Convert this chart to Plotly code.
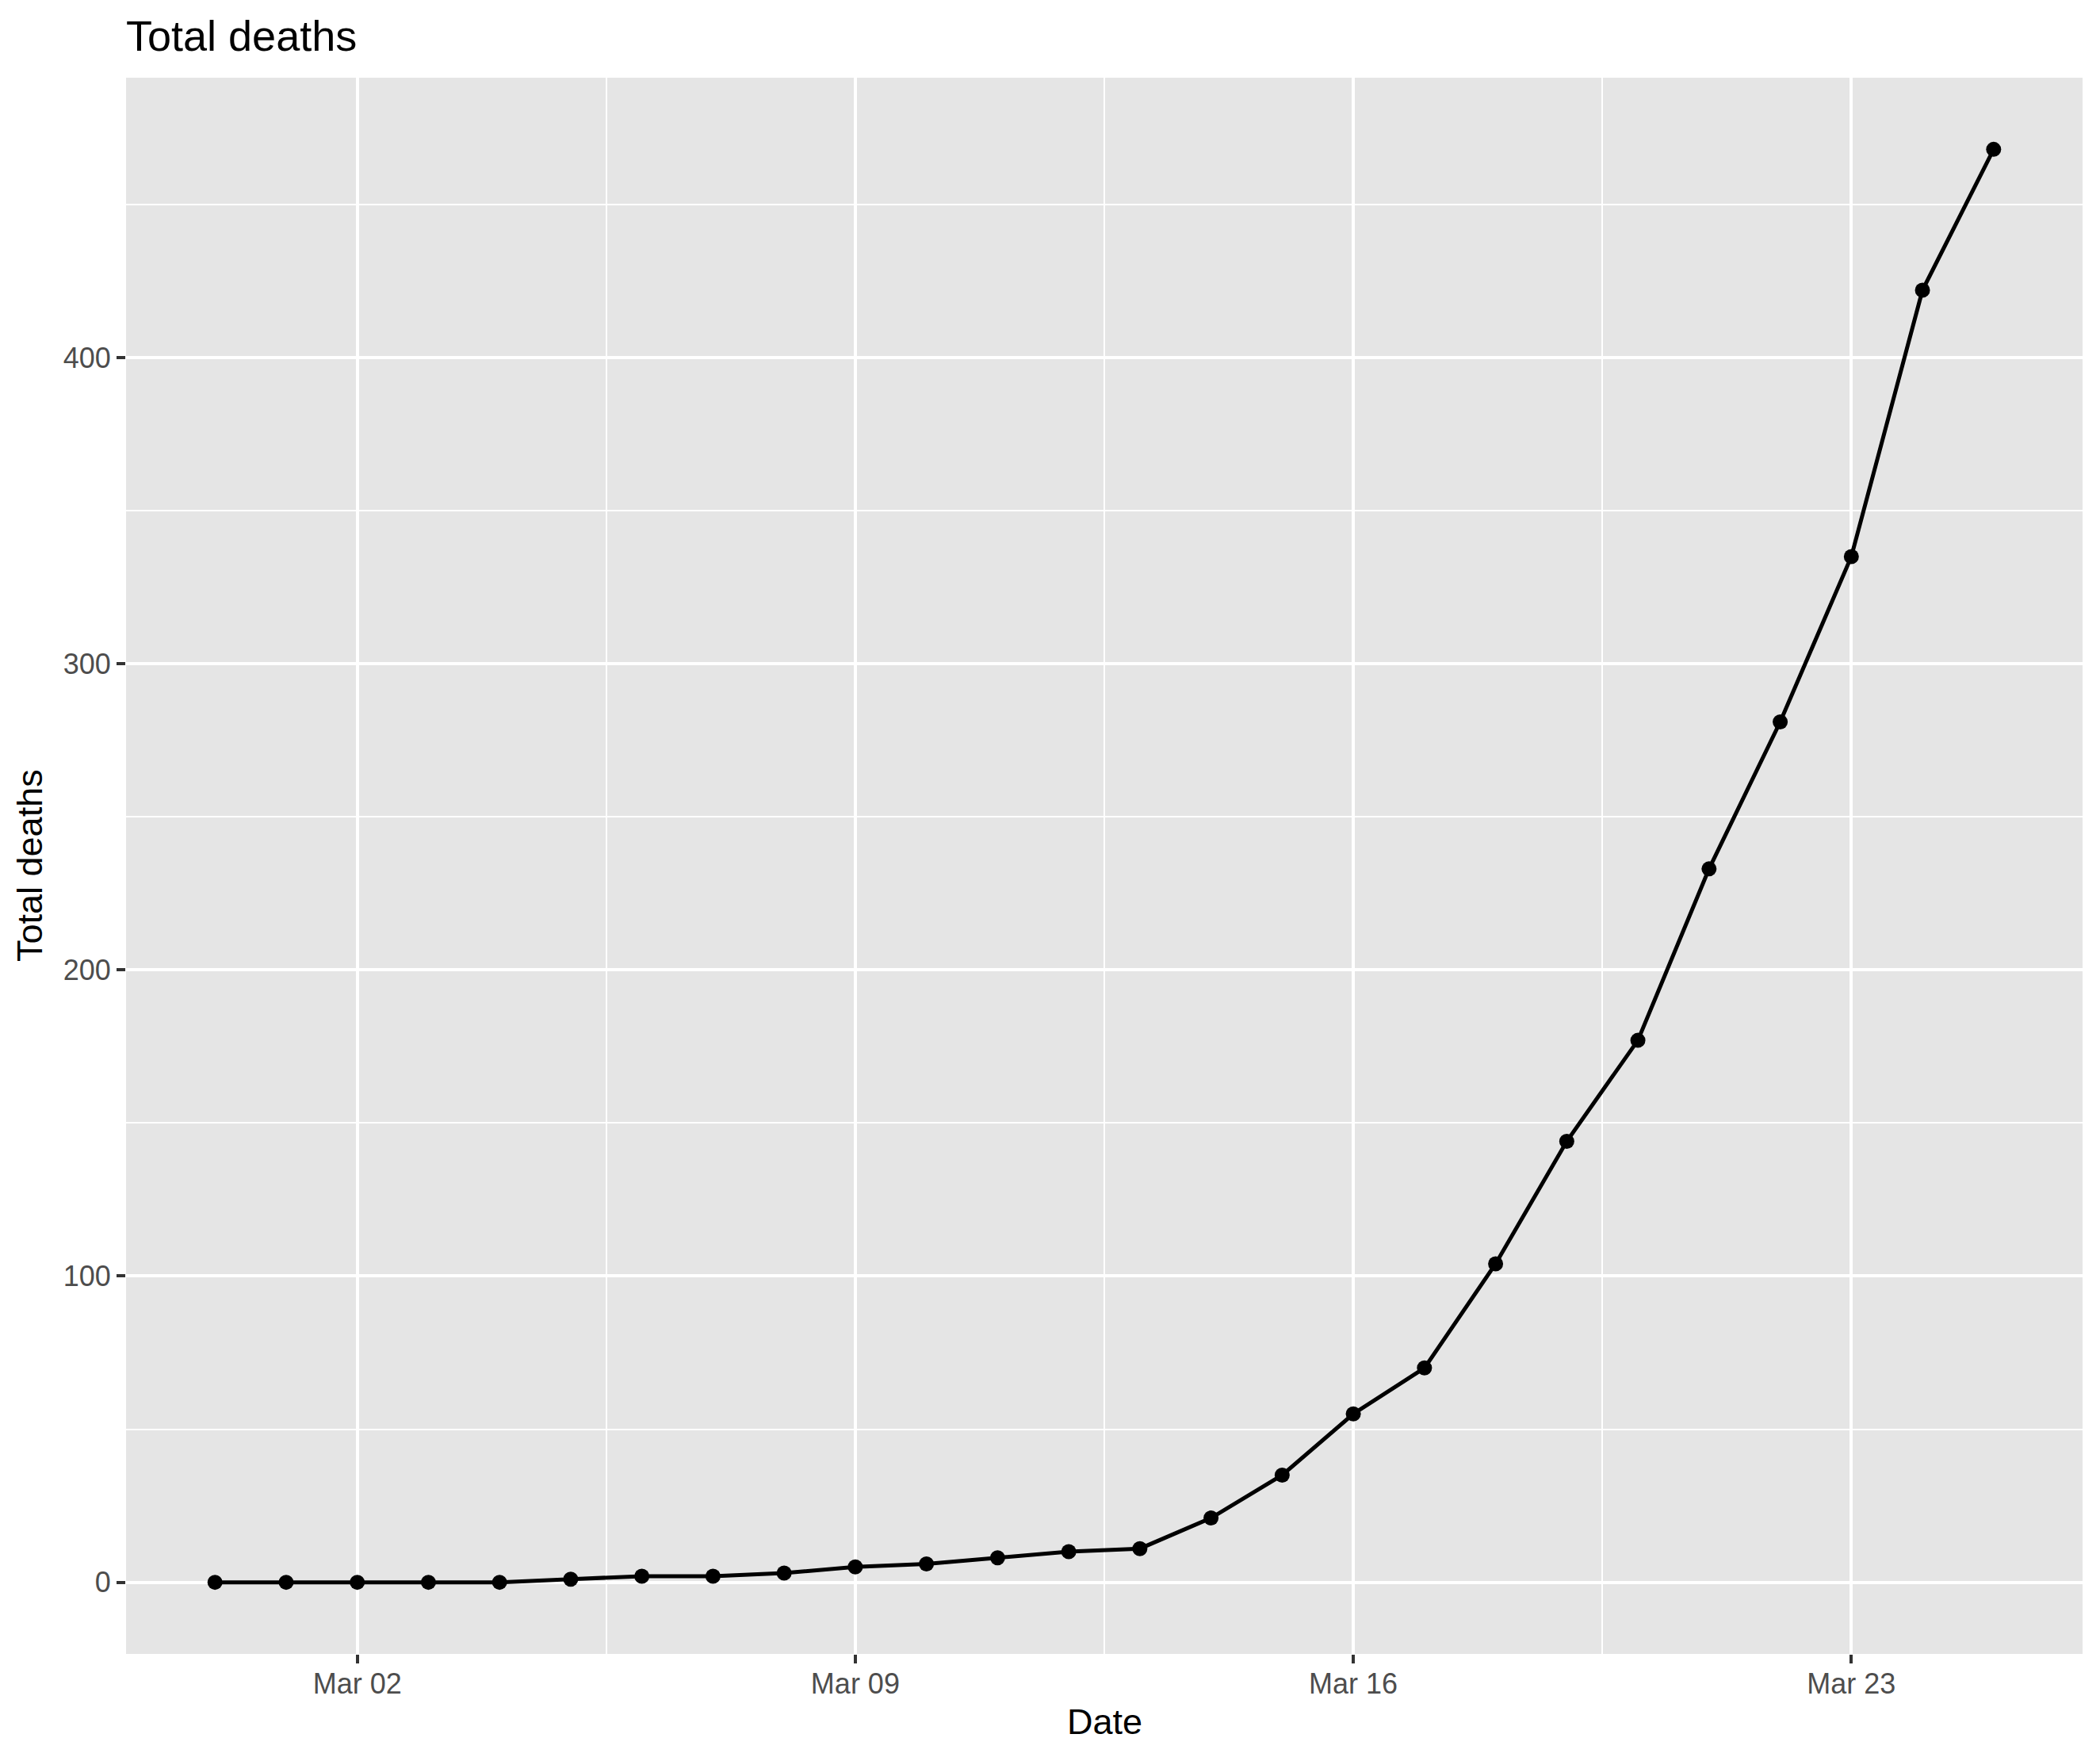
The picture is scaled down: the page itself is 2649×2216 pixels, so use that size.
import plotly.graph_objects as go

dates = ["2020-02-29", "2020-03-01", "2020-03-02", "2020-03-03", "2020-03-04",
         "2020-03-05", "2020-03-06", "2020-03-07", "2020-03-08", "2020-03-09",
         "2020-03-10", "2020-03-11", "2020-03-12", "2020-03-13", "2020-03-14",
         "2020-03-15", "2020-03-16", "2020-03-17", "2020-03-18", "2020-03-19",
         "2020-03-20", "2020-03-21", "2020-03-22", "2020-03-23", "2020-03-24",
         "2020-03-25"]
total_deaths = [0, 0, 0, 0, 0, 1, 2, 2, 3, 5, 6, 8, 10, 11, 21, 35, 55, 70,
                104, 144, 177, 233, 281, 335, 422, 468]
major_x_ticks = ["2020-03-02", "2020-03-09", "2020-03-16", "2020-03-23"]
minor_x_ticks = ["2020-03-05 12:00", "2020-03-12 12:00", "2020-03-19 12:00"]
major_y_ticks = [0, 100, 200, 300, 400]
minor_y_ticks = [50, 150, 250, 350, 450]

W, H = 2649, 2216
OFF = 8  # default body margin of the html page
L, R, T, B = 159 - OFF, 22 + OFF, 98 - OFF, 130 + OFF
FONT = "Liberation Sans, Arial, Helvetica, sans-serif"

fig = go.Figure()
fig.add_trace(go.Scatter(
    x=dates, y=total_deaths, mode="lines+markers",
    line=dict(color="black", width=5),
    marker=dict(color="black", size=19),
    showlegend=False,
))

fig.update_layout(
    width=W, height=H,
    margin=dict(l=L, r=R, t=T, b=B, autoexpand=False),
    paper_bgcolor="white",
    plot_bgcolor="#e5e5e5",
    font=dict(family=FONT, color="#4d4d4d", size=36),
    title=dict(text="Total deaths", font=dict(family=FONT, size=54, color="black"),
               x=L / W, xanchor="left", xref="container",
               y=1 - (45 - OFF) / H, yanchor="middle", yref="container"),
)

fig.update_xaxes(
    type="date",
    range=["2020-02-27 18:00", "2020-03-26 06:00"],
    tickmode="array", tickvals=major_x_ticks, tickformat="%b %d",
    ticks="outside", ticklen=11, tickwidth=4, tickcolor="#333333",
    tickfont=dict(size=36, color="#4d4d4d", family=FONT),
    ticklabelstandoff=-5,
    showgrid=True, gridcolor="white", gridwidth=4,
    minor=dict(tickmode="array", tickvals=minor_x_ticks, showgrid=True,
               gridcolor="white", gridwidth=2, ticks=""),
    zeroline=False, showline=False, fixedrange=True,
)
fig.update_yaxes(
    range=[-23.4, 491.4],
    tickmode="array", tickvals=major_y_ticks,
    ticks="outside", ticklen=11, tickwidth=4, tickcolor="#333333",
    tickfont=dict(size=36, color="#4d4d4d", family=FONT),
    showgrid=True, gridcolor="white", gridwidth=4,
    minor=dict(tickmode="array", tickvals=minor_y_ticks, showgrid=True,
               gridcolor="white", gridwidth=2, ticks=""),
    zeroline=False, showline=False, fixedrange=True,
)

PW, PH = W - L - R, H - T - B
fig.add_annotation(text="Date", xref="paper", yref="paper",
                   x=0.5, y=-(2171 - 2086) / PH,
                   xanchor="center", yanchor="middle", showarrow=False,
                   font=dict(family=FONT, size=45, color="black"))
fig.add_annotation(text="Total deaths", xref="paper", yref="paper",
                   x=-(159 - 37) / PW, y=0.5, textangle=-90,
                   xanchor="center", yanchor="middle", showarrow=False,
                   font=dict(family=FONT, size=45, color="black"))

fig.write_html("out.html")
